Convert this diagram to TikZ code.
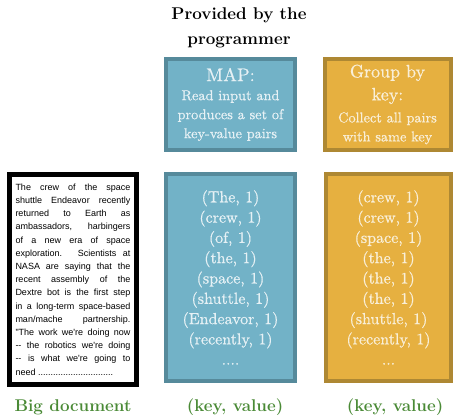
\documentclass[tikz,border=0pt]{standalone}
\usepackage{fontspec}
\newfontfamily\docfont{Liberation Sans}
\newfontfamily\boxfont{lmroman10-regular.otf}[FakeBold=0.6]
\definecolor{bluefill}{HTML}{72B2C7}
\definecolor{blueedge}{HTML}{568A9B}
\definecolor{bluetext}{HTML}{E6F1F5}
\definecolor{orfill}{HTML}{E6B040}
\definecolor{oredge}{HTML}{AE8833}
\definecolor{ortext}{HTML}{F9EFD8}
\definecolor{labgreen}{HTML}{4A8A36}
\begin{document}
\begin{tikzpicture}[x=1pt,y=1pt,
  bluebox/.style={draw=blueedge, fill=bluefill, line width=4pt, text=bluetext, align=center, inner sep=0pt},
  orbox/.style={draw=oredge, fill=orfill, line width=4pt, text=ortext, align=center, inner sep=0pt},
  docbox/.style={draw=black, line width=5pt, fill=white, inner sep=0pt, minimum width=127pt, minimum height=210pt},
  listtext/.style={font=\boxfont\fontsize{16}{20.3}\selectfont},
  toptext/.style={font=\boxfont\fontsize{14.3}{19}\selectfont},
  caption/.style={font=\fontsize{17}{19}\selectfont\bfseries, text=labgreen},
  title/.style={font=\fontsize{17}{25}\selectfont\bfseries, align=center}
]
\useasboundingbox (0,0) rectangle (454,414);

\node[title] (title) at (239,386.5) {Provided by the\\programmer};

\node[bluebox, toptext, minimum width=129pt, minimum height=91pt] (map) at (230.5,309.5)
  {{\fontsize{18.5}{19}\selectfont MAP:}\\Read input and\\produces a set of\\key-value pairs};
\node[orbox, toptext, minimum width=126pt, minimum height=91pt] (group) at (387.5,309.5)
  {{\fontsize{18}{19}\selectfont Group by}\\[4pt]{\fontsize{18}{19}\selectfont key:}\\[3pt]Collect all pairs\\with same key};

\node[docbox] (doc) at (73,134.5) {\parbox{115pt}{\docfont\fontsize{9}{13.2}\selectfont\tolerance=10000\hbadness=10000
The crew of the space\linebreak
shuttle Endeavor recently\linebreak
returned to Earth as\linebreak
ambassadors, harbingers\linebreak
of a new era of space\linebreak
exploration. Scientists at\linebreak
NASA are saying that the\linebreak
recent assembly of the\linebreak
Dextre bot is the first step\linebreak
in a long-term space-based\linebreak
man/mache partnership.\linebreak
"The work we're doing now\linebreak
-- the robotics we're doing\linebreak
-- is what we're going to\linebreak
need ..............................\par}};

\node[bluebox, listtext, minimum width=129pt, minimum height=207pt] (kv) at (230.5,136.5)
  {(The, 1)\\(crew, 1)\\(of, 1)\\(the, 1)\\(space, 1)\\(shuttle, 1)\\(Endeavor, 1)\\(recently, 1)\\....};
\node[orbox, listtext, minimum width=125pt, minimum height=207pt] (grouped) at (388.5,136.5)
  {(crew, 1)\\(crew, 1)\\(space, 1)\\(the, 1)\\(the, 1)\\(the, 1)\\(shuttle, 1)\\(recently, 1)\\...};

\node[caption] (doclab) at (73,7) {Big document};
\node[caption] (kvlab) at (235,7) {(key, value)};
\node[caption] (grlab) at (395,7) {(key, value)};
\end{tikzpicture}
\end{document}
